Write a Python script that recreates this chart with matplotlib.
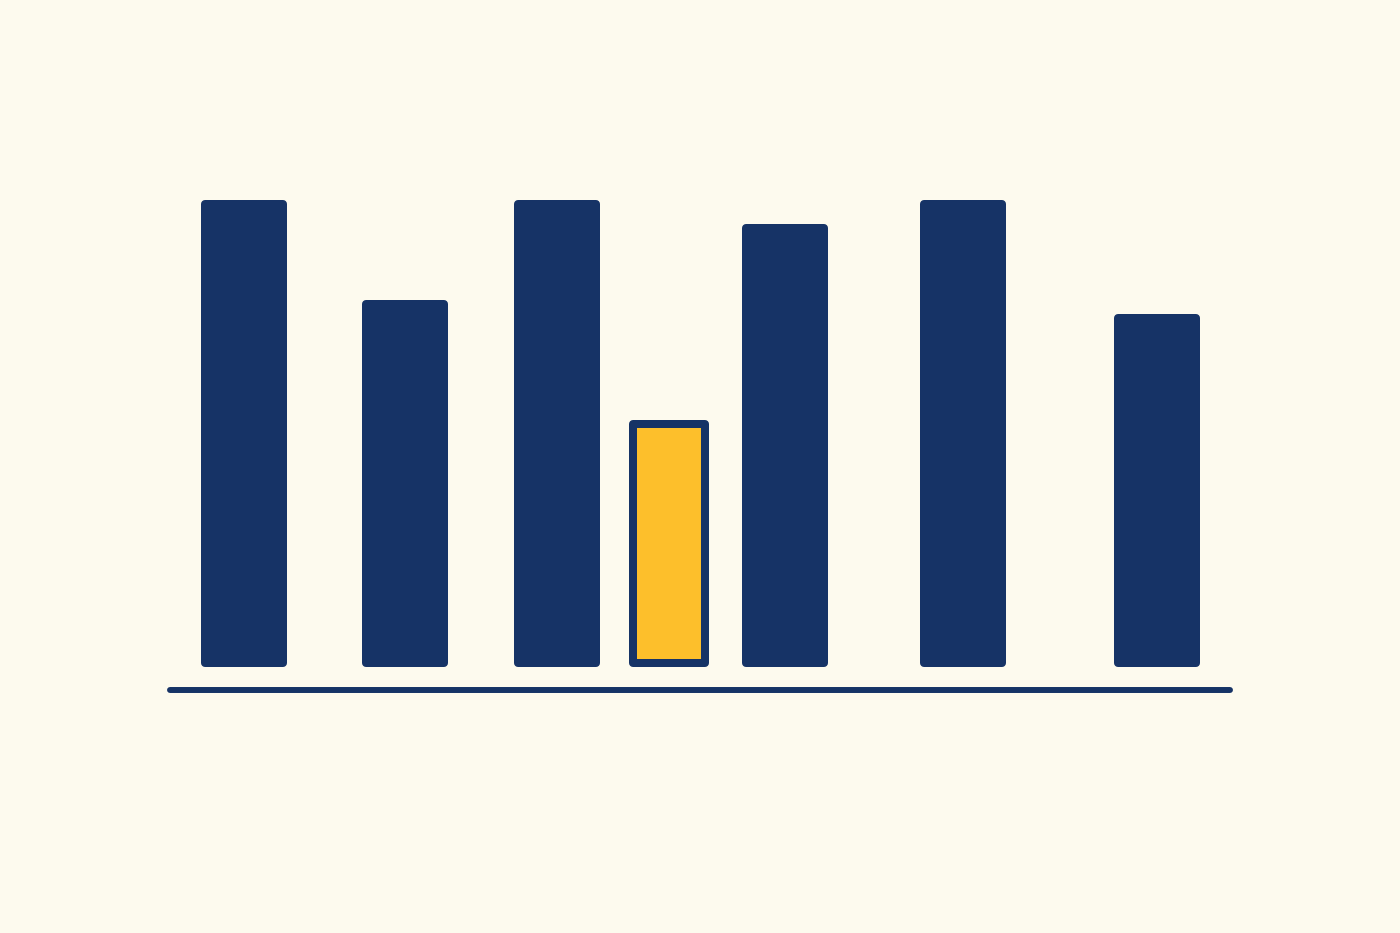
import matplotlib
matplotlib.use("Agg")
import matplotlib.pyplot as plt

# Valeurs (unites arbitraires, 100 = barre la plus haute)
categories = ["A", "B", "C", "D", "E", "F", "G"]
positions = [244, 404.5, 556.5, 668.5, 785, 962.5, 1157]
valeurs = [100, 78.6, 100, 52.9, 94.9, 100, 75.6]
mise_en_avant = "D"

fond = "#FDFAEE"
bleu = "#163366"
jaune = "#FDBF2B"

fig = plt.figure(figsize=(14, 9.33), dpi=100)
fig.patch.set_facecolor(fond)
ax = fig.add_axes([0, 0, 1, 1])
ax.set_facecolor(fond)

# echelle : 1 unite = 4.67 px, zero a 667 px depuis le haut
px = 4.67
ax.set_xlim(0, 1400)
ax.set_ylim((667 - 933) / px, 667 / px)
ax.axis("off")

largeur = 86
for cat, x, v in zip(categories, positions, valeurs):
    if cat == mise_en_avant:
        lw_px = 8
        ax.bar(x, v - lw_px / px, width=80 - lw_px, bottom=lw_px / 2 / px,
               color=jaune, edgecolor=bleu, linewidth=lw_px * 0.72,
               joinstyle="round")
    else:
        lw_px = 8
        ax.bar(x, v - lw_px / px, width=largeur - lw_px,
               bottom=lw_px / 2 / px, color=bleu, edgecolor=bleu,
               linewidth=lw_px * 0.72, joinstyle="round")

# ligne de base
ax.plot([170, 1230], [-23 / px, -23 / px], color=bleu, linewidth=4.3,
        solid_capstyle="round")

fig.savefig("out.png", dpi=100, facecolor=fond)
